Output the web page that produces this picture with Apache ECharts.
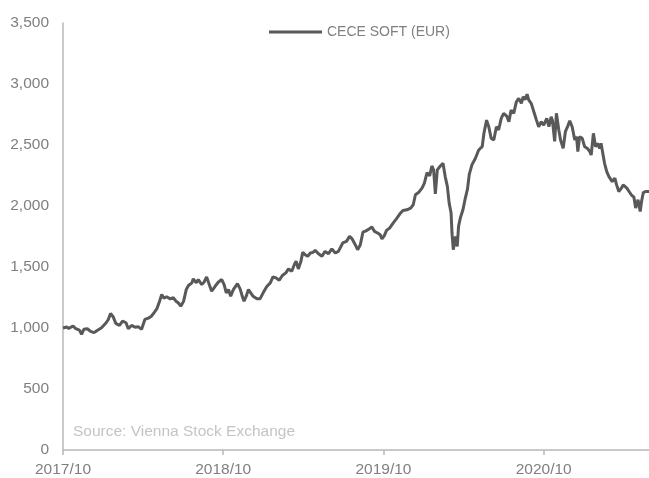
<!DOCTYPE html>
<html>
<head>
<meta charset="utf-8">
<script src="https://cdn.jsdelivr.net/npm/echarts@6/dist/echarts.min.js"></script>
<style>
  html, body { margin: 0; padding: 0; background: #fff; }
  #chart { width: 649px; height: 478px; }
</style>
</head>
<body>
<div id="chart"></div>
<script>
const seriesName = 'CECE SOFT (EUR)';
const sourceText = 'Source: Vienna Stock Exchange';
const yTicks = [0, 500, 1000, 1500, 2000, 2500, 3000, 3500];

const dates = [
  '2017-10-01','2017-10-09','2017-10-14','2017-10-24','2017-10-30','2017-11-08','2017-11-13','2017-11-18','2017-11-26','2017-12-03','2017-12-11','2017-12-18','2017-12-28',
  '2018-01-08','2018-01-13','2018-01-18','2018-01-24','2018-01-30','2018-02-08','2018-02-15','2018-02-23','2018-02-28','2018-03-05','2018-03-13','2018-03-20','2018-03-28',
  '2018-04-01','2018-04-05','2018-04-13','2018-04-20','2018-04-26','2018-05-02','2018-05-08','2018-05-13','2018-05-18','2018-05-24','2018-06-02','2018-06-09','2018-06-15','2018-06-20','2018-06-26',
  '2018-07-02','2018-07-08','2018-07-13','2018-07-21','2018-07-24','2018-07-31','2018-08-05','2018-08-13','2018-08-18','2018-08-24','2018-08-30','2018-09-05','2018-09-13','2018-09-20','2018-09-28',
  '2018-10-03','2018-10-08','2018-10-13','2018-10-18','2018-10-24','2018-11-03','2018-11-09','2018-11-15','2018-11-18','2018-11-23','2018-11-28','2018-12-02','2018-12-08','2018-12-17','2018-12-24',
  '2019-01-01','2019-01-09','2019-01-17','2019-01-23','2019-01-30','2019-02-07','2019-02-14','2019-02-22','2019-02-28','2019-03-05','2019-03-11','2019-03-15','2019-03-20','2019-03-26','2019-03-30',
  '2019-04-05','2019-04-11','2019-04-17','2019-04-23','2019-04-28','2019-05-05','2019-05-13','2019-05-20','2019-05-28','2019-06-05','2019-06-13','2019-06-20','2019-06-30',
  '2019-07-08','2019-07-15','2019-07-21','2019-07-28','2019-08-03','2019-08-09','2019-08-15','2019-08-22','2019-08-29','2019-09-05','2019-09-11','2019-09-18','2019-09-24','2019-09-28',
  '2019-10-03','2019-10-08','2019-10-15','2019-10-23','2019-10-30','2019-11-08','2019-11-15','2019-11-24','2019-12-02','2019-12-08','2019-12-13','2019-12-20','2019-12-28',
  '2020-01-03','2020-01-09','2020-01-15','2020-01-20','2020-01-24','2020-01-28','2020-02-02','2020-02-09','2020-02-15','2020-02-20','2020-02-25','2020-02-29',
  '2020-03-03','2020-03-05','2020-03-08','2020-03-13','2020-03-17','2020-03-20','2020-03-24','2020-03-30','2020-04-05','2020-04-10','2020-04-14','2020-04-20','2020-04-28',
  '2020-05-05','2020-05-13','2020-05-17','2020-05-23','2020-05-28','2020-06-03','2020-06-09','2020-06-15','2020-06-20','2020-06-26',
  '2020-07-01','2020-07-08','2020-07-13','2020-07-18','2020-07-24','2020-07-30','2020-08-05','2020-08-11','2020-08-15','2020-08-20','2020-08-24','2020-08-28',
  '2020-09-03','2020-09-09','2020-09-15','2020-09-20','2020-09-26','2020-10-01','2020-10-08','2020-10-13','2020-10-18','2020-10-21','2020-10-26','2020-10-30',
  '2020-11-05','2020-11-09','2020-11-15','2020-11-20','2020-11-25','2020-11-30','2020-12-05','2020-12-11','2020-12-15','2020-12-18','2020-12-22','2020-12-28',
  '2021-01-03','2021-01-09','2021-01-15','2021-01-18','2021-01-23','2021-01-28','2021-02-02','2021-02-07','2021-02-10','2021-02-14','2021-02-18','2021-02-23','2021-02-28',
  '2021-03-05','2021-03-11','2021-03-15','2021-03-20','2021-03-26','2021-03-30','2021-04-08','2021-04-13','2021-04-18','2021-04-24','2021-04-28',
  '2021-05-03','2021-05-08','2021-05-11','2021-05-15','2021-05-20','2021-05-24','2021-05-28'
];
const values = [
  1000,1008,997,1016,995,983,948,989,994,972,962,980,1002,
  1043,1070,1119,1092,1038,1021,1056,1043,994,1021,1007,1011,989,
  994,1070,1081,1097,1125,1158,1220,1274,1245,1256,1239,1248,1220,1207,1179,
  1220,1315,1348,1370,1403,1370,1397,1356,1375,1419,1356,1302,1342,1375,1397,
  1356,1288,1315,1261,1315,1364,1321,1248,1220,1261,1315,1329,1261,1239,1239,
  1290,1340,1370,1419,1411,1391,1430,1452,1484,1465,1520,1547,1484,1547,1620,
  1601,1588,1615,1620,1636,1609,1588,1628,1609,1648,1615,1628,1697,
  1710,1751,1730,1683,1642,1680,1785,1796,1812,1828,1792,1779,1765,1730,
  1757,1800,1819,1860,1893,1936,1963,1969,1983,2010,2092,2110,2146,
  2187,2274,2247,2328,2296,2100,2296,2328,2350,2241,2159,2024,
  1942,1779,1642,1751,1669,1833,1901,1969,2065,2140,2260,2337,2391,
  2459,2486,2596,2704,2650,2555,2541,2650,2623,2718,
  2759,2737,2690,2786,2759,2854,2882,2841,2895,2873,2917,2868,
  2841,2772,2704,2650,2690,2663,2718,2650,2731,2700,2530,2760,
  2623,2541,2473,2609,2650,2699,2650,2541,2568,2446,2568,2555,
  2486,2473,2446,2418,2596,2486,2514,2473,2514,2432,2350,2282,2241,
  2200,2228,2173,2119,2146,2173,2146,2119,2092,2073,1983,
  2051,1955,2037,2110,2119,2105,2119
];

// months elapsed since 2017/10, so yearly ticks fall every 12
function monthsSince(d) {
  const [y, m, day] = d.split('-').map(Number);
  return (y - 2017) * 12 + (m - 10) + (day - 1) / 30.44;
}

const chart = echarts.init(document.getElementById('chart'));
const font = 'Liberation Sans, Arial, sans-serif';

const option = {
  animation: false,
  grid: { left: 63, right: 0, top: 23, bottom: 27 },
  legend: {
    data: [seriesName],
    left: 264,
    top: 20,
    icon: 'rect',
    itemWidth: 53,
    itemHeight: 3,
    textStyle: { color: '#7f7f7f', fontSize: 14, fontFamily: font }
  },
  graphic: [{
    type: 'text',
    left: 73,
    top: 424,
    style: { text: sourceText, fill: '#c4c4c4', fontSize: 15.5, fontFamily: font }
  }],
  xAxis: {
    type: 'value',
    min: 0,
    max: monthsSince(dates[dates.length - 1]),
    interval: 12,
    splitLine: { show: false },
    axisLine: { lineStyle: { color: '#b8b8b8', width: 1.5 } },
    axisTick: { length: 5, lineStyle: { color: '#b8b8b8', width: 1.5 } },
    axisLabel: {
      margin: 12,
      color: '#7f7f7f',
      fontSize: 15.5,
      fontFamily: font,
      showMaxLabel: false,
      formatter: v => (v % 12 === 0 ? (2017 + v / 12) + '/10' : '')
    }
  },
  yAxis: {
    type: 'value',
    min: yTicks[0],
    max: yTicks[yTicks.length - 1],
    interval: 500,
    splitLine: { show: false },
    axisLine: { show: true, lineStyle: { color: '#b8b8b8', width: 1.5 } },
    axisTick: { show: false },
    axisLabel: {
      margin: 14,
      color: '#7f7f7f',
      fontSize: 15.5,
      fontFamily: font,
      formatter: v => v.toLocaleString('en-US')
    }
  },
  series: [{
    name: seriesName,
    type: 'line',
    showSymbol: false,
    data: dates.map((d, i) => [monthsSince(d), values[i]]),
    lineStyle: { color: '#595959', width: 3 },
    itemStyle: { color: '#595959' }
  }]
};

chart.setOption(option);
</script>
</body>
</html>
